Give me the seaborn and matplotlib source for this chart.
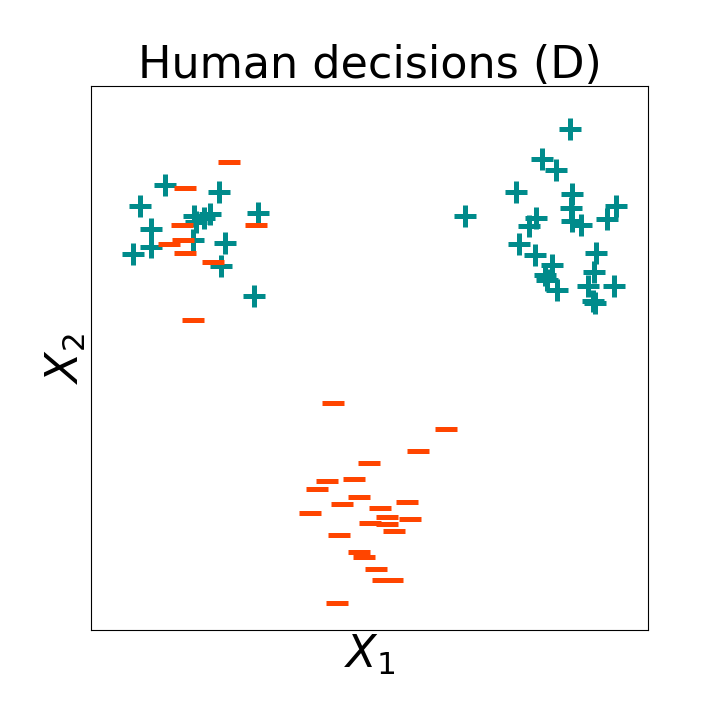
import matplotlib
matplotlib.use("Agg")
import matplotlib.pyplot as plt
import numpy as np
import pandas as pd
import seaborn as sns

# ── Data (arbitrary feature units) ────────────────────────────────────────────
pos_x1 = [165, 219, 140, 258, 151, 151, 133, 194, 196, 204, 210, 193, 225, 221, 254,
          570, 542, 556, 516, 572, 465, 616, 571, 536, 607, 572, 581, 529, 519, 535,
          596, 552, 545, 547, 594, 557, 614, 588, 593, 595]
pos_x2 = [535, 528, 514, 507, 491, 473, 466, 504, 498, 502, 506, 480, 477, 454, 424,
          591, 561, 550, 528, 526, 504, 514, 512, 502, 501, 499, 495, 494, 476, 465,
          467, 455, 445, 440, 448, 430, 434, 434, 419, 417]

neg_x1 = [229, 185, 182, 256, 183, 169, 185, 213, 193,
          333, 446, 418, 369, 327, 354, 317, 359, 342, 407, 380, 310, 387, 410,
          370, 387, 394, 339, 359, 364, 376, 383, 392, 337]
neg_x2 = [558, 532, 495, 495, 480, 476, 467, 458, 400,
          317, 291, 269, 257, 239, 241, 231, 223, 216, 218, 212, 207, 203, 201,
          197, 196, 189, 185, 168, 163, 151, 140, 140, 117]

df_pos = pd.DataFrame({"x1": pos_x1, "x2": pos_x2})
df_neg = pd.DataFrame({"x1": neg_x1, "x2": neg_x2})

# ── Figure ────────────────────────────────────────────────────────────────────
sns.set_style("white")
plt.rcParams["text.color"] = "black"
plt.rcParams["axes.labelcolor"] = "black"

fig = plt.figure(figsize=(7.2, 7.2), dpi=100)
ax = fig.add_axes([91 / 720, 90 / 720, 557 / 720, 544 / 720])

sns.scatterplot(data=df_pos, x="x1", y="x2", marker="+", s=260,
                color="#008B8B", linewidth=3.6, ax=ax)
sns.scatterplot(data=df_neg, x="x1", y="x2", marker="_", s=260,
                color="#FF4500", linewidth=3.6, ax=ax)

ax.set_xlim(91, 648)
ax.set_ylim(90, 634)
ax.set_xticks([])
ax.set_yticks([])
for spine in ax.spines.values():
    spine.set_color("black")
    spine.set_linewidth(0.8)

ax.set_title("Human decisions (D)", fontsize=32, color="black")
ax.set_xlabel("$X_1$", fontsize=32, labelpad=2)
ax.set_ylabel("$X_2$", fontsize=32, labelpad=2)

fig.savefig("out.png", dpi=100)
